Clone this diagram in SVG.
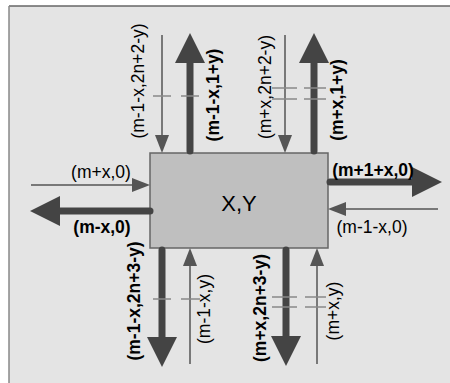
<svg xmlns="http://www.w3.org/2000/svg" width="450" height="383" viewBox="0 0 450 383">
<defs>
<style>
.thick{stroke:#444;stroke-width:7;fill:none;stroke-linecap:round;marker-end:url(#hb)}
.thin{stroke:#555;stroke-width:1.5;fill:none;marker-end:url(#hs)}
.dash{stroke:#888;stroke-width:1.3;fill:none}
.t{font-family:"Liberation Sans",Arial,sans-serif;font-size:17.5px;fill:#000;text-anchor:middle}
.b{font-weight:bold}
</style>
<marker id="hb" markerUnits="userSpaceOnUse" viewBox="0 0 30 30" refX="10" refY="15" markerWidth="30" markerHeight="30" orient="auto"><path d="M0,0 L30,15 L0,30 z" fill="#444"/></marker>
<marker id="hs" markerUnits="userSpaceOnUse" viewBox="0 0 18 14" refX="8" refY="7" markerWidth="18" markerHeight="14" orient="auto"><path d="M0,0 L18,7 L0,14 z" fill="#555"/></marker>
</defs>
<rect x="0" y="0" width="450" height="383" fill="#fff"/>
<rect x="9" y="6" width="450" height="390" fill="#e4e4e4"/>
<line x1="9" y1="6" x2="450" y2="6" stroke="#666" stroke-width="1.5"/>
<line x1="9" y1="6" x2="9" y2="383" stroke="#888" stroke-width="1.5"/>
<g id="center">
<rect x="150" y="153" width="178" height="95" fill="#bfbfbf" stroke="#666" stroke-width="1.5"/>
<text class="t" x="239" y="211" style="font-size:22px">X,Y</text>
</g>
<g id="connectors">
<path class="thin" d="M162,35 V143"/>
<path class="thick" d="M190,151 V53"/>
<path class="thin" d="M285,35 V143"/>
<path class="thick" d="M314,151 V53"/>
<path class="thin" d="M31,185 H140"/>
<path class="thick" d="M150,211 H50"/>
<path class="thick" d="M330,182 H422"/>
<path class="thin" d="M438,209 H338"/>
<path class="thick" d="M162,250 V347"/>
<path class="thin" d="M190,364 V258"/>
<path class="thick" d="M286,250 V346"/>
<path class="thin" d="M317,364 V258"/>
<path class="dash" d="M153,96 H171 M181,96 H199"/>
<path class="dash" d="M272,88 H297 M304,88 H326 M272,99 H297 M304,99 H326"/>
<path class="dash" d="M153,299 H171 M181,299 H200"/>
<path class="dash" d="M272,297 H297 M305,297 H326 M272,307 H297 M305,307 H326"/>
</g>
<g id="labels">
<text class="t" transform="translate(144,81) rotate(-90)">(m-1-x,2n+2-y)</text>
<text class="t b" transform="translate(219,95) rotate(-90)">(m-1-x,1+y)</text>
<text class="t" transform="translate(271,87) rotate(-90)">(m+x,2n+2-y)</text>
<text class="t b" transform="translate(343,100) rotate(-90)">(m+x,1+y)</text>
<text class="t b" transform="translate(140,301) rotate(-90)">(m-1-x,2n+3-y)</text>
<text class="t" transform="translate(210,309) rotate(-90)">(m-1-x,y)</text>
<text class="t b" transform="translate(266,308) rotate(-90)">(m+x,2n+3-y)</text>
<text class="t" transform="translate(339,311) rotate(-90)">(m+x,y)</text>
<text class="t" x="101" y="178">(m+x,0)</text>
<text class="t b" x="102" y="233">(m-x,0)</text>
<text class="t b" x="373" y="176">(m+1+x,0)</text>
<text class="t" x="372" y="233">(m-1-x,0)</text>
</g>
</svg>
